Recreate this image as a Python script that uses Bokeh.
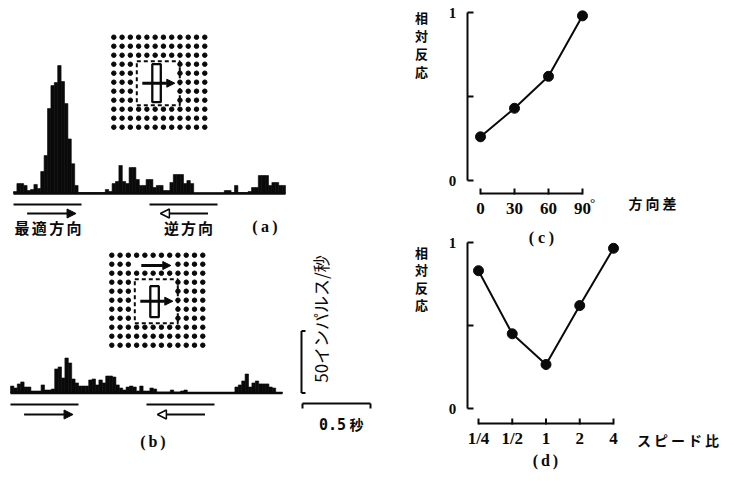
import math
import numpy as np
from bokeh.plotting import figure
from bokeh.models import Range1d, Arrow, NormalHead
from bokeh.core.properties import value
from bokeh.embed import file_html
from bokeh.resources import INLINE

# ---------------- data ----------------
BIN_WIDTH = 0.025  # s
# (a) response to bar moving in preferred direction (uniform background)
rate_a = [1.6, 8, 8, 6.5, 2.4, 3.2, 7.3, 4, 17.7, 30.6, 68.5, 87, 89.5, 103.2, 90.3, 72.5, 44, 24, 6.5, 0.8,
          0.8, 0.8, 0.8, 0.8, 0.8, 0.8, 0.8, 3.2, 1.6, 8, 9.7, 22.6, 9.7, 8, 21, 21, 11.3, 6.5, 6.5, 11.3,
          11.3, 4.8, 6.5, 6.5, 2.4, 2.4, 8.9, 15.3, 15.3, 15.3, 8, 10.5, 8, 0.4, 0.4, 0.4, 0.4, 0.4, 0.4, 0.4,
          0.4, 0.4, 2.4, 2.4, 0.8, 6.5, 0.8, 0.8, 0.8, 1.6, 4.8, 4.8, 14.5, 14.5, 14.5, 6.5, 8.9, 8.9, 6.5, 6.5]
# (b) response when background moves together
rate_b = [5.6, 4, 7.3, 8.9, 4.8, 4.8, 1.6, 1.6, 1.6, 6.5, 2.4, 2.4, 3.2, 19.4, 21, 12.1, 28.2, 24.2, 11.3, 8.1,
          5.6, 5.6, 5.6, 10.5, 11.3, 6.5, 10.5, 8.1, 13.7, 13.7, 12.9, 6.5, 4, 2.4, 4.8, 5.6, 4.8, 1.6, 5.6, 1.6,
          1.6, 4, 3.2, 0.8, 0.8, 0.8, 0.8, 2.4, 0.8, 0.8, 1.6, 2.4, 0.4, 0.4, 0.4, 0.4, 0.4, 0.4, 0.4, 0.4,
          0.4, 0.4, 0.4, 0.4, 0.4, 0.4, 4.8, 6.5, 9.7, 15.3, 4.8, 8.1, 9.7, 7.3, 7.3, 7.3, 4.8, 4, 0.4, 0.4]
stim_pref = [0.0, 0.5]   # s, preferred-direction sweep
stim_null = [1.0, 1.5]   # s, opposite-direction sweep
SCALE_RATE = 50          # impulses/s
SCALE_TIME = 0.5         # s

angle_diff = [0, 30, 60, 90]
angle_labels = ["0", "30", "60", "90"]
resp_c = [0.26, 0.43, 0.62, 0.98]

speed_ratio = [0.25, 0.5, 1, 2, 4]
speed_labels = ["1/4", "1/2", "1", "2", "4"]
resp_d = [0.83, 0.45, 0.265, 0.62, 0.965]

y_ticks = [0, 0.5, 1]
y_tick_labels = ["0", "", "1"]

# ---------------- canvas ----------------
INK = "#0a0a0a"
W, H = 726, 473
X0, X1 = 0, W
Y0, Y1 = 0, H
JP = "Noto Sans CJK JP"
SERIF = "Liberation Serif"

p = figure(width=W, height=H, x_range=Range1d(X0, X1), y_range=Range1d(Y1, Y0),
           output_backend="svg", toolbar_location=None,
           x_axis_type=None, y_axis_type=None, min_border=0)
p.outline_line_color = None
p.background_fill_color = "white"
p.border_fill_color = "white"


def hrange(d0, p0, d1, p1):
    k = (d1 - d0) / (p1 - p0)
    return Range1d(start=d0 + (X0 - p0) * k, end=d0 + (X1 - p0) * k)


def vrange(d0, p0, d1, p1):
    k = (d1 - d0) / (p1 - p0)
    return Range1d(start=d0 + (Y1 - p0) * k, end=d0 + (Y0 - p0) * k)


PX_S = 136.0     # px per second
PX_R = 1.24      # px per impulse/s
p.extra_x_ranges = {
    "ta": hrange(0, 13, 1, 13 + PX_S),
    "tb": hrange(0, 10, 1, 10 + PX_S),
    "c": hrange(0, 480, 90, 582),
    "d": hrange(-2, 478, 2, 613),
}
p.extra_y_ranges = {
    "ra": vrange(0, 193, 1, 193 - PX_R),
    "rb": vrange(0, 392.5, 1, 392.5 - PX_R),
    "c": vrange(0, 180, 1, 12),
    "d": vrange(0, 408, 1, 242),
}


def spaced(text, cx, cy, pitch, size, font=JP, style="bold", vertical=False, **kw):
    n = len(text)
    offs = [(i - (n - 1) / 2) * pitch for i in range(n)]
    if vertical:
        xs, ys = [cx] * n, [cy + o for o in offs]
    else:
        xs, ys = [cx + o for o in offs], [cy] * n
    p.text(x=xs, y=ys, text=list(text), text_align="center", text_baseline="middle",
           text_font=value(font), text_font_size=f"{size}px", text_font_style=style,
           text_color=INK, **kw)


def histogram(rates, xr, yr, stim_y, arrow_y):
    n = len(rates)
    left = np.arange(n) * BIN_WIDTH
    p.quad(left=left, right=left + BIN_WIDTH, bottom=0, top=rates, fill_color=INK,
           line_color=INK, line_width=0.6, x_range_name=xr, y_range_name=yr)
    p.segment(x0=[0], y0=[0], x1=[n * BIN_WIDTH], y1=[0], line_width=2.5,
              line_color=INK, x_range_name=xr, y_range_name=yr)
    p.segment(x0=[stim_pref[0], stim_null[0]], y0=[stim_y] * 2,
              x1=[stim_pref[1], stim_null[1]], y1=[stim_y] * 2,
              line_width=2, line_color=INK, x_range_name=xr)
    p.add_layout(Arrow(end=NormalHead(size=9, fill_color=INK, line_color=INK),
                       x_start=stim_pref[0] + 0.1, y_start=arrow_y,
                       x_end=stim_pref[1] - 0.04, y_end=arrow_y,
                       line_width=2, line_color=INK, x_range_name=xr))
    p.add_layout(Arrow(end=NormalHead(size=9, fill_color="white", line_color=INK, line_width=1.5),
                       x_start=stim_null[1] - 0.07, y_start=arrow_y,
                       x_end=stim_null[0] + 0.08, y_end=arrow_y,
                       line_width=2, line_color=INK, x_range_name=xr))


def icon(gx, gy, top_arrow, bar_top, bar_bottom):
    dx, dy = 8.27, 9.0
    xs, ys = [], []
    for j in range(11):
        for i in range(12):
            if 3 <= i <= 7 and 3 <= j <= 7:
                continue
            if top_arrow and j == 1 and 3 <= i <= 7:
                continue
            xs.append(gx + i * dx)
            ys.append(gy + j * dy)
    p.scatter(xs, ys, size=4.5, color=INK)
    p.quad(left=gx + 23, right=gx + 66, top=gy + 24, bottom=gy + 68, fill_color=None,
           line_color=INK, line_width=2, line_dash="4 3")
    p.quad(left=gx + 38.5, right=gx + 47, top=gy + bar_top, bottom=gy + bar_bottom, fill_color="white",
           line_color=INK, line_width=2.3)
    p.add_layout(Arrow(end=NormalHead(size=8, fill_color=INK, line_color=INK),
                       x_start=gx + 28.5, y_start=gy + 46, x_end=gx + 61, y_end=gy + 46,
                       line_width=3, line_color=INK))
    if top_arrow:
        p.add_layout(Arrow(end=NormalHead(size=8, fill_color=INK, line_color=INK),
                           x_start=gx + 29.5, y_start=gy + 10.3, x_end=gx + 59, y_end=gy + 10.3,
                           line_width=3, line_color=INK))


# ---- (a) ----
icon(113.3, 36.7, False, 27, 65)
histogram(rate_a, "ta", "ra", 204, 213)
spaced("最適方向", 47.5, 227, 17.3, 15)
spaced("逆方向", 188, 227, 17, 15)
spaced("(a)", 264.5, 226, 10, 16, font=SERIF)

# ---- (b) ----
icon(111.3, 254.7, True, 31, 62)
histogram(rate_b, "tb", "rb", 404, 414)
spaced("(b)", 152.5, 441, 10, 16, font=SERIF)

# scale bars
SB_X = 301
p.segment(x0=[SB_X], y0=[0], x1=[SB_X], y1=[SCALE_RATE], line_width=2, line_color=INK, y_range_name="rb")
p.segment(x0=[SB_X, SB_X], y0=[0, SCALE_RATE], x1=[SB_X + 4, SB_X + 4], y1=[0, SCALE_RATE],
          line_width=2, line_color=INK, y_range_name="rb")
SB_T0 = 2.147
p.segment(x0=[SB_T0], y0=[403], x1=[SB_T0 + SCALE_TIME], y1=[403], line_width=2, line_color=INK, x_range_name="tb")
p.segment(x0=[SB_T0, SB_T0 + SCALE_TIME], y0=[403, 403], x1=[SB_T0, SB_T0 + SCALE_TIME], y1=[408, 408],
          line_width=2, line_color=INK, x_range_name="tb")
p.text(x=[320], y=[318.5], text=[f"{SCALE_RATE}インパルス/秒"], angle=math.pi / 2,
       text_align="center", text_baseline="middle", text_font=value(JP),
       text_font_size="17px", text_color=INK)
p.text(x=[332], y=[423], text=[f"{SCALE_TIME}"], text_align="center", text_baseline="middle",
       text_font=value("DejaVu Sans Mono"), text_font_size="15px", text_font_style="bold", text_color=INK)
p.text(x=[356], y=[423], text=["秒"], text_align="center", text_baseline="middle",
       text_font=value(JP), text_font_size="14px", text_font_style="bold", text_color=INK)


# ---- line panels ----
def line_panel(name, xs, labels, ys, yaxis_px, xaxis_px, ylab_center, ylab_pitch, xlab, xlab_center, tag, tag_xy):
    # y axis
    p.segment(x0=[yaxis_px], y0=[y_ticks[0]], x1=[yaxis_px], y1=[y_ticks[-1]],
              line_width=2, line_color=INK, y_range_name=name)
    p.segment(x0=[yaxis_px] * len(y_ticks), y0=y_ticks, x1=[yaxis_px + 6] * len(y_ticks), y1=y_ticks,
              line_width=2, line_color=INK, y_range_name=name)
    p.text(x=[yaxis_px - 15] * len(y_ticks), y=y_ticks, text=y_tick_labels, text_align="center",
           text_baseline="middle", text_font=value(SERIF), text_font_size="15px",
           text_font_style="bold", text_color=INK, y_range_name=name)
    # x axis
    p.segment(x0=[xs[0]], y0=[xaxis_px], x1=[xs[-1]], y1=[xaxis_px], line_width=2,
              line_color=INK, x_range_name=name)
    p.segment(x0=xs, y0=[xaxis_px - 5] * len(xs), x1=xs, y1=[xaxis_px + 1] * len(xs),
              line_width=2, line_color=INK, x_range_name=name)
    p.text(x=xs, y=[xaxis_px + 15] * len(xs), text=labels, text_align="center",
           text_baseline="middle", text_font=value(SERIF), text_font_size="17px",
           text_font_style="bold", text_color=INK, x_range_name=name)
    # data
    p.line(xs, ys, line_width=2, line_color=INK, x_range_name=name, y_range_name=name)
    p.scatter(xs, ys, size=10, color=INK, x_range_name=name, y_range_name=name)
    # labels
    spaced("相対反応", 421, ylab_center, ylab_pitch, 13, vertical=True)
    spaced(xlab, xlab_center[0], xlab_center[1], 17, 14)
    spaced(tag, tag_xy[0], tag_xy[1], 10, 16, font=SERIF)


line_panel("c", angle_diff, angle_labels, resp_c, 467, 193, 44, 18, "方向差", (652, 202), "(c)", (541, 237))
p.text(x=[angle_diff[-1]], y=[202], text=["°"], x_offset=10, text_align="center", text_baseline="middle",
       text_font=value(SERIF), text_font_size="13px", text_font_style="bold", text_color=INK,
       x_range_name="c")

speed_pos = list(np.log2(speed_ratio))
line_panel("d", speed_pos, speed_labels, resp_d, 467, 423, 278, 17.5, "スピード比", (677.5, 439), "(d)", (545, 460))

open("out.html", "w").write(file_html(p, INLINE))
